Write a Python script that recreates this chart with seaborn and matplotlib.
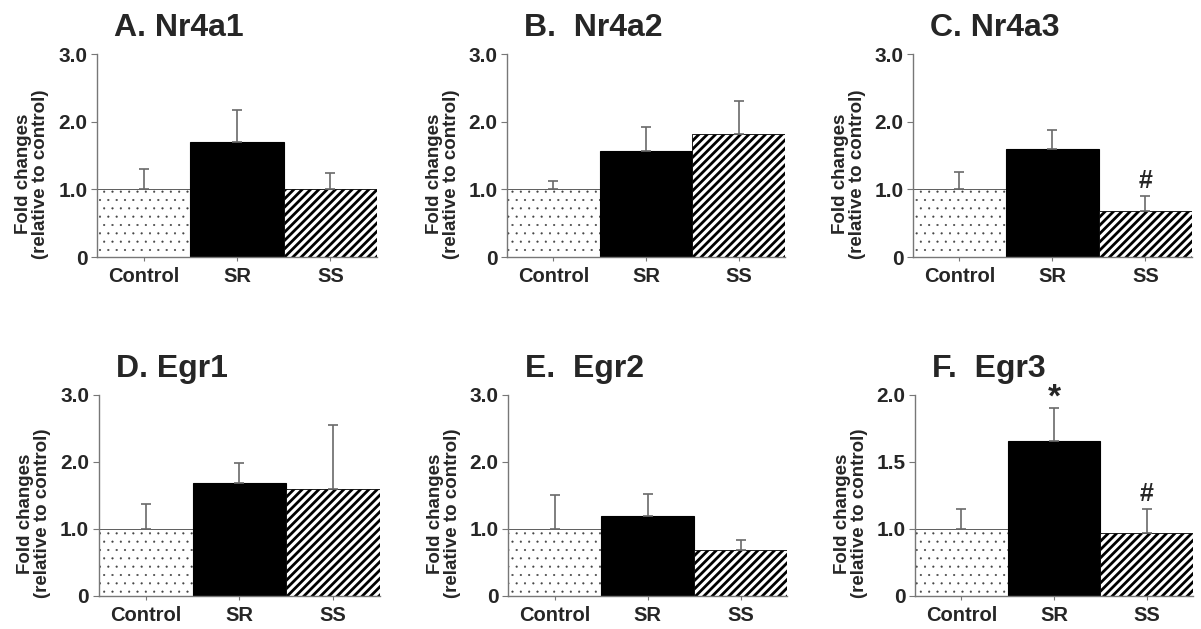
import matplotlib
matplotlib.use('Agg')
import matplotlib.pyplot as plt
import seaborn as sns
import numpy as np

# groups and values (mean fold change and upper SEM)
categories = ['Control', 'SR', 'SS']

nr4a1_mean = [1.00, 1.70, 1.00]
nr4a1_sem = [0.30, 0.47, 0.24]
nr4a2_mean = [1.00, 1.57, 1.82]
nr4a2_sem = [0.12, 0.35, 0.49]
nr4a3_mean = [1.00, 1.60, 0.68]
nr4a3_sem = [0.25, 0.27, 0.22]
egr1_mean = [1.00, 1.68, 1.59]
egr1_sem = [0.37, 0.30, 0.96]
egr2_mean = [1.00, 1.19, 0.69]
egr2_sem = [0.50, 0.33, 0.15]
egr3_mean = [1.00, 1.66, 0.97]
egr3_sem = [0.15, 0.24, 0.18]

titles = ['A. Nr4a1', 'B.  Nr4a2', 'C. Nr4a3', 'D. Egr1', 'E.  Egr2', 'F.  Egr3']
marks_nr4a3 = ['', '', '#']
marks_egr3 = ['', '*', '#']

sns.set_style('white')
plt.rcParams['font.family'] = ['Liberation Sans', 'DejaVu Sans']
plt.rcParams['font.weight'] = 'bold'
plt.rcParams['hatch.linewidth'] = 2.0

SPINE = '#777777'


def hatch_lw(patch, lw):
    if hasattr(patch, 'set_hatch_linewidth'):
        patch.set_hatch_linewidth(lw)
    else:
        patch._hatch_linewidth = lw


def draw_panel(ax, title, means, sems, marks=None, egr3=False):
    sns.barplot(x=categories, y=means, hue=categories, palette=['white', 'black', 'white'],
                width=1.0, legend=False, ax=ax, saturation=1)
    for i, patch in enumerate(ax.patches):
        if i == 0:
            patch.set_edgecolor('#444444')
            patch.set_linewidth(0.6)
            patch.set_hatch('..')
            hatch_lw(patch, 0.3)
        elif i == 1:
            patch.set_edgecolor('black')
            patch.set_linewidth(0.8)
        else:
            patch.set_edgecolor('black')
            patch.set_linewidth(0.6)
            patch.set_hatch('////')
            hatch_lw(patch, 2.0)
    x = np.arange(len(categories))
    ax.errorbar(x, means, yerr=[np.zeros(len(means)), sems], fmt='none',
                ecolor='#6a6a6a', elinewidth=1.2, capsize=3.3, capthick=1.2, zorder=1)
    ax.set_xlim(-0.5, 2.5)
    if egr3:
        ax.set_ylim(0.5, 2.0)
        ax.set_yticks([0.5, 1.0, 1.5, 2.0])
        ax.set_yticklabels(['0', '1.0', '1.5', '2.0'])
    else:
        ax.set_ylim(0, 3.0)
        ax.set_yticks([0, 1, 2, 3])
        ax.set_yticklabels(['0', '1.0', '2.0', '3.0'])
    if marks:
        for xi, (m, s, mk) in enumerate(zip(means, sems, marks)):
            if mk == '*':
                ax.annotate(mk, (xi, m + s), xytext=(0, -4), textcoords='offset points',
                            ha='center', va='bottom', fontsize=24, fontweight='bold')
            elif mk:
                ax.annotate(mk, (xi, m + s), xytext=(0, 2), textcoords='offset points',
                            ha='center', va='bottom', fontsize=18, fontweight='bold')
    sns.despine(ax=ax)
    for side in ['left', 'bottom']:
        ax.spines[side].set_color(SPINE)
        ax.spines[side].set_linewidth(1.0)
    ax.tick_params(axis='y', direction='out', length=4, color=SPINE, labelsize=15, pad=3, left=True)
    ax.tick_params(axis='x', direction='out', length=3, color=SPINE, labelsize=14.5, pad=4.5, bottom=True)
    for lab in ax.get_xticklabels() + ax.get_yticklabels():
        lab.set_fontweight('bold')
    ax.set_xlabel('')
    ax.set_ylabel('Fold changes\n(relative to control)', fontsize=13.5, fontweight='bold',
                  linespacing=1.0)
    ax.yaxis.set_label_coords(-0.17, 0.41)
    ax.text(0.06, 1.089, title, transform=ax.transAxes, fontsize=23, fontweight='bold',
            ha='left', va='baseline')


fig = plt.figure(figsize=(12.01, 6.29), dpi=100)
ax_a = fig.add_axes([0.0808, 0.5914, 0.2331, 0.3227])
ax_b = fig.add_axes([0.4222, 0.5914, 0.2315, 0.3227])
ax_c = fig.add_axes([0.7602, 0.5914, 0.2323, 0.3227])
ax_d = fig.add_axes([0.0824, 0.0525, 0.2340, 0.3196])
ax_e = fig.add_axes([0.4230, 0.0525, 0.2323, 0.3196])
ax_f = fig.add_axes([0.7619, 0.0525, 0.2315, 0.3196])

draw_panel(ax_a, titles[0], nr4a1_mean, nr4a1_sem)
draw_panel(ax_b, titles[1], nr4a2_mean, nr4a2_sem)
draw_panel(ax_c, titles[2], nr4a3_mean, nr4a3_sem, marks_nr4a3)
draw_panel(ax_d, titles[3], egr1_mean, egr1_sem)
draw_panel(ax_e, titles[4], egr2_mean, egr2_sem)
draw_panel(ax_f, titles[5], egr3_mean, egr3_sem, marks_egr3, egr3=True)

fig.savefig('out.png', dpi=100)
